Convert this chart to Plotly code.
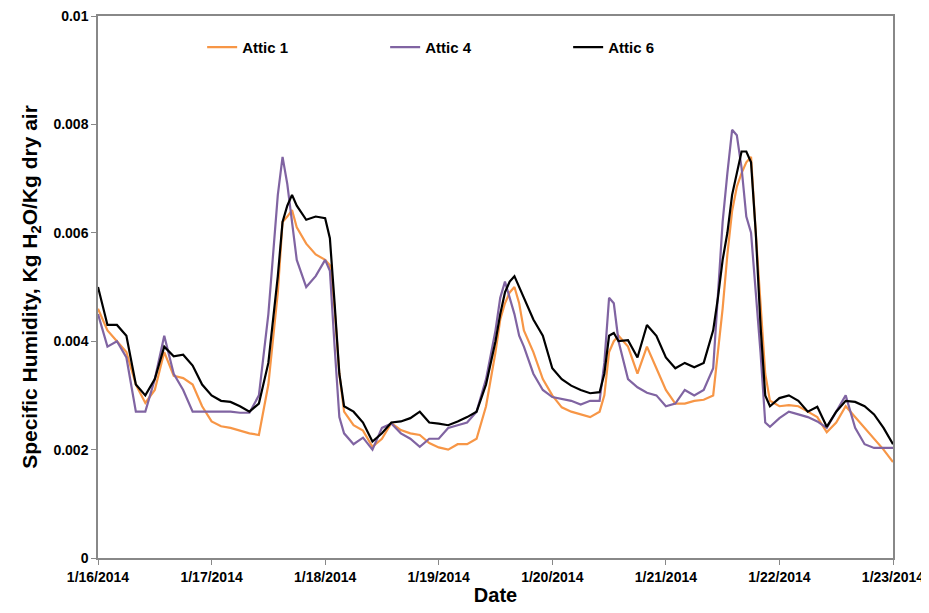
import datetime as dt
import plotly.graph_objects as go

# hours after 1/16/2014 00:00
hours = [0, 2, 4, 6, 8, 10, 12, 14, 16, 18, 20, 22,
         24, 26, 28, 30, 32, 34, 36, 38, 39, 40, 41, 42, 44, 46,
         48, 49, 50, 51, 52, 54, 56, 58, 60, 62, 64, 66, 68, 70,
         72, 74, 76, 78, 80, 82, 84, 85, 86, 87, 88, 89, 90, 92, 94,
         96, 98, 100, 102, 104, 106, 107, 108, 109, 110, 112, 114, 116, 118,
         120, 122, 124, 126, 128, 130, 131, 132, 133, 134, 135, 136, 137, 138, 139, 140, 141, 142,
         144, 146, 148, 150, 152, 154, 156, 158, 160, 162, 164, 166, 168]

attic1 = [0.0046, 0.0042, 0.0040, 0.0038, 0.0032, 0.00286, 0.0031, 0.0038, 0.00336, 0.00332, 0.0032, 0.0028,
          0.00252, 0.00243, 0.0024, 0.00235, 0.0023, 0.00227, 0.0032, 0.0049, 0.0062, 0.0063, 0.00642, 0.0061, 0.0058, 0.0056,
          0.0055, 0.0054, 0.0046, 0.0034, 0.0027, 0.00245, 0.00235, 0.00205, 0.0022, 0.00249, 0.00236, 0.0023, 0.00227, 0.00212,
          0.00204, 0.0020, 0.0021, 0.0021, 0.0022, 0.0028, 0.0038, 0.0044, 0.0047, 0.0049, 0.0050, 0.0047, 0.0042, 0.0038, 0.0033,
          0.0030, 0.00278, 0.0027, 0.00265, 0.0026, 0.0027, 0.0030, 0.0038, 0.0040, 0.0041, 0.0039, 0.0034, 0.0039, 0.0035,
          0.0031, 0.00285, 0.00285, 0.0029, 0.00292, 0.0030, 0.0038, 0.0046, 0.0056, 0.0064, 0.00685, 0.0071, 0.0073, 0.0074, 0.0060, 0.0047, 0.0034, 0.0029,
          0.0028, 0.00282, 0.0028, 0.0027, 0.0026, 0.00232, 0.0025, 0.0028, 0.0026, 0.0024, 0.0022, 0.0020, 0.00177]

attic4 = [0.0045, 0.0039, 0.0040, 0.0037, 0.0027, 0.0027, 0.0033, 0.0041, 0.0034, 0.0031, 0.0027, 0.0027,
          0.0027, 0.0027, 0.0027, 0.00268, 0.00268, 0.0030, 0.0045, 0.0067, 0.0074, 0.0069, 0.0062, 0.0055, 0.0050, 0.0052,
          0.0055, 0.0053, 0.0039, 0.0026, 0.0023, 0.0021, 0.00222, 0.0020, 0.0024, 0.00248, 0.0023, 0.0022, 0.00205, 0.0022,
          0.0022, 0.0024, 0.00245, 0.0025, 0.0027, 0.0033, 0.0042, 0.0048, 0.0051, 0.0048, 0.0045, 0.0041, 0.0039, 0.0034, 0.0031,
          0.00297, 0.00294, 0.0029, 0.00283, 0.0029, 0.0029, 0.0036, 0.0048, 0.0047, 0.0040, 0.0033, 0.00315, 0.00305, 0.0030,
          0.0028, 0.00285, 0.0031, 0.0030, 0.0031, 0.0035, 0.0048, 0.0062, 0.0071, 0.0079, 0.0078, 0.0072, 0.0063, 0.0060, 0.0049, 0.0038, 0.0025, 0.00242,
          0.00258, 0.0027, 0.00265, 0.0026, 0.00252, 0.0024, 0.0027, 0.0030, 0.0024, 0.0021, 0.00203, 0.00203, 0.00203]

attic6 = [0.0050, 0.0043, 0.0043, 0.0041, 0.0032, 0.0030, 0.0033, 0.0039, 0.00372, 0.00375, 0.00355, 0.0032,
          0.0030, 0.0029, 0.00288, 0.0028, 0.0027, 0.00285, 0.0036, 0.0052, 0.0062, 0.0065, 0.0067, 0.0065, 0.00624, 0.0063,
          0.00627, 0.0059, 0.0047, 0.0034, 0.0028, 0.0027, 0.0025, 0.00215, 0.0023, 0.0025, 0.00252, 0.00258, 0.0027, 0.0025,
          0.00248, 0.00245, 0.00252, 0.0026, 0.0027, 0.0032, 0.0040, 0.0045, 0.0049, 0.0051, 0.0052, 0.0050, 0.0048, 0.0044, 0.0041,
          0.0035, 0.0033, 0.00318, 0.0031, 0.00304, 0.00306, 0.0034, 0.0041, 0.00415, 0.0040, 0.00402, 0.0037, 0.0043, 0.0041,
          0.0037, 0.0035, 0.0036, 0.00352, 0.0036, 0.0042, 0.0048, 0.0055, 0.0060, 0.0067, 0.0071, 0.0075, 0.0075, 0.0073, 0.0060, 0.0043, 0.0030, 0.0028,
          0.00295, 0.0030, 0.0029, 0.0027, 0.00279, 0.00242, 0.0027, 0.0029, 0.00288, 0.0028, 0.00265, 0.0024, 0.0021]

assert len(hours) == len(attic1) == len(attic4) == len(attic6)

series_names = ["Attic 1", "Attic 4", "Attic 6"]
series_colors = ["#F79646", "#8064A2", "#000000"]
x_tick_labels = ["1/16/2014", "1/17/2014", "1/18/2014", "1/19/2014",
                 "1/20/2014", "1/21/2014", "1/22/2014", "1/23/2014"]
y_tick_vals = [0, 0.002, 0.004, 0.006, 0.008, 0.01]
y_tick_labels = ["0", "0.002", "0.004", "0.006", "0.008", "0.01"]

start = dt.datetime(2014, 1, 16)
times = [start + dt.timedelta(hours=h) for h in hours]

fig = go.Figure()
for name, vals, col in zip(series_names, [attic1, attic4, attic6], series_colors):
    fig.add_trace(go.Scatter(x=times, y=vals, mode="lines", name=name,
                             line=dict(color=col, width=2.2)))

font_family = "Liberation Sans, Arial, sans-serif"
# page has an 8px body margin, so the figure is 8px smaller and margins shifted
fig.update_layout(
    width=921, height=605,
    margin=dict(l=90, r=36, t=8, b=55),
    paper_bgcolor="white", plot_bgcolor="white",
    font=dict(family=font_family, color="black"),
    showlegend=True,
    legend=dict(orientation="h", x=0.131, y=0.942, xanchor="left", yanchor="middle",
                entrywidth=138, entrywidthmode="pixels", itemwidth=30,
                font=dict(size=15, family=font_family, color="black", weight="bold"),
                bgcolor="rgba(0,0,0,0)"),
)
fig.update_xaxes(
    automargin=False, ticklabeloverflow="allow",
    range=[dt.datetime(2014, 1, 16), dt.datetime(2014, 1, 23)],
    tickmode="array",
    tickvals=[start + dt.timedelta(days=d) for d in range(len(x_tick_labels))],
    ticktext=x_tick_labels,
    ticks="outside", ticklen=5, tickcolor="#888888",
    showline=True, linecolor="#888888", linewidth=1.5, mirror=True,
    showgrid=False, zeroline=False,
    tickfont=dict(size=14, family=font_family, color="black", weight="bold"),
    title=dict(text="Date", font=dict(size=20, family=font_family, weight="bold"), standoff=4),
)
fig.update_yaxes(
    automargin=False, ticklabeloverflow="allow",
    range=[0, 0.01], tickmode="array",
    tickvals=y_tick_vals, ticktext=y_tick_labels,
    ticks="outside", ticklen=5, tickcolor="#888888",
    showline=True, linecolor="#888888", linewidth=1.5, mirror=True,
    showgrid=False, zeroline=False,
    tickfont=dict(size=14, family=font_family, color="black", weight="bold"),
    title=dict(text="Specific Humidity, Kg H<sub>2</sub>O/Kg dry air",
               font=dict(size=21, family=font_family, weight="bold"), standoff=10),
)

fig.write_html("out.html")
